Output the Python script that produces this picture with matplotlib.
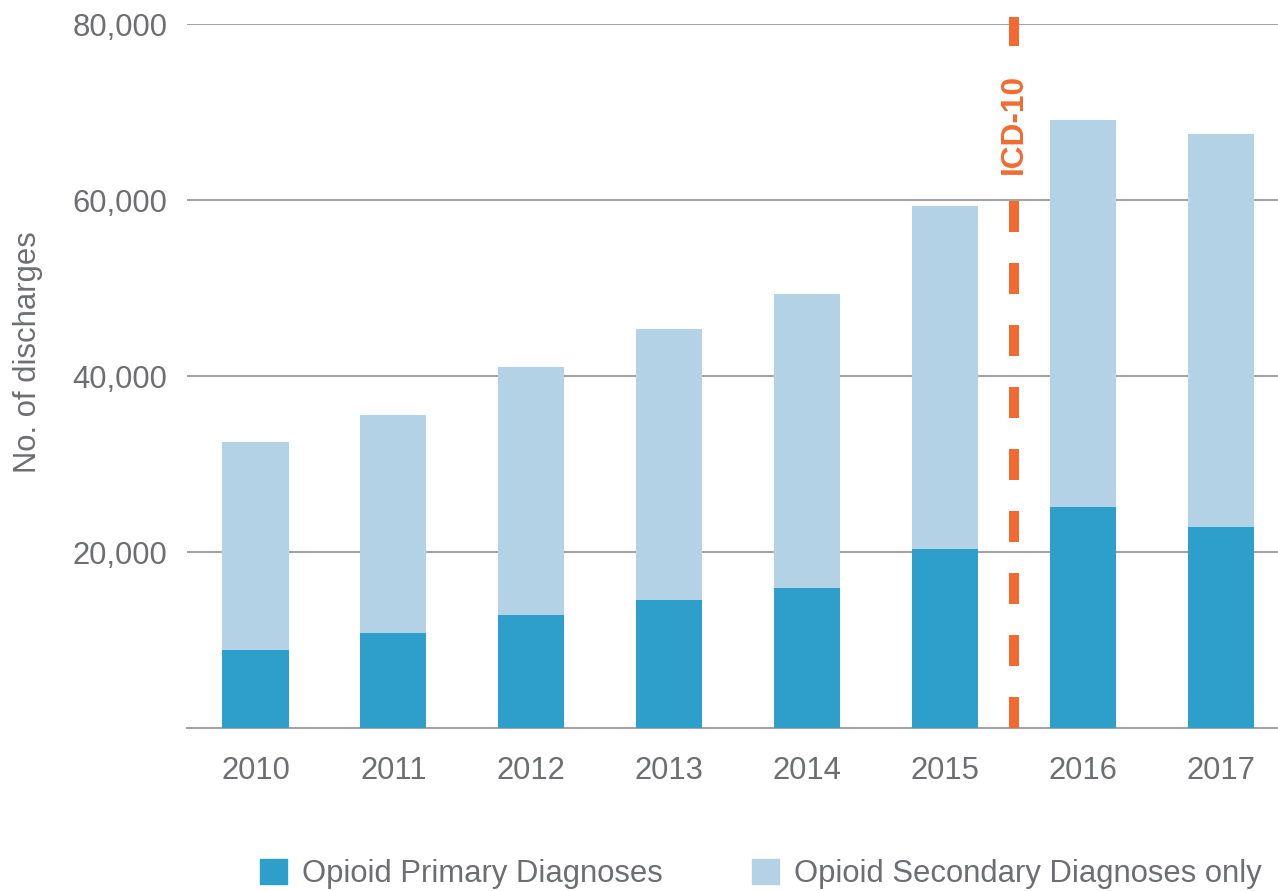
import matplotlib.pyplot as plt
import numpy as np
from matplotlib.patches import Patch

years = ['2010', '2011', '2012', '2013', '2014', '2015', '2016', '2017']
primary = [8900, 10800, 12900, 14500, 15900, 20300, 25100, 22800]
total = [32500, 35600, 41000, 45300, 49300, 59300, 69100, 67500]
secondary = [t - p for t, p in zip(total, primary)]
yticks = [20000, 40000, 60000, 80000]
ytick_labels = ['20,000', '40,000', '60,000', '80,000']
icd_x = 5.5
icd_label = 'ICD-10'

c_primary = '#2E9FCB'
c_secondary = '#B3D2E6'
c_orange = '#F26A2F'
c_text = '#6D6E71'
c_grid = '#A3A3A3'

plt.rcParams['font.family'] = ['Liberation Sans', 'DejaVu Sans']
fs = 22.3

fig = plt.figure(figsize=(12.78, 8.91), dpi=100)
ax = fig.add_axes([0.1463, 0.1829, 0.8537, 0.7901])

x = np.arange(len(years))
w = 0.48
ax.bar(x, primary, width=w, color=c_primary, zorder=3, label='Opioid Primary Diagnoses')
ax.bar(x, secondary, width=w, bottom=primary, color=c_secondary, zorder=3,
       label='Opioid Secondary Diagnoses only')

# ICD-10 transition marker
ax.plot([icd_x, icd_x], [0, 80800], color=c_orange, lw=7.2, solid_capstyle='butt',
        dash_capstyle='butt', dashes=(3.1, 3.1), zorder=4, clip_on=False)
ax.text(icd_x, 68600, icd_label, rotation=90, ha='center', va='center',
        fontsize=22.8, fontweight='bold', color=c_orange, zorder=5,
        bbox=dict(facecolor='white', edgecolor='none', pad=4))

ax.set_xlim(-0.497, 7.415)
ax.set_ylim(0, 80000)
ax.set_yticks(yticks)
ax.set_yticklabels(ytick_labels)
ax.set_xticks(x)
ax.set_xticklabels(years)
ax.tick_params(axis='both', length=0, labelsize=fs, labelcolor=c_text)
ax.tick_params(axis='y', pad=14)
ax.tick_params(axis='x', pad=20)

for s in ['top', 'right', 'left']:
    ax.spines[s].set_visible(False)
ax.spines['bottom'].set_color(c_grid)
ax.spines['bottom'].set_linewidth(1.5)
ax.yaxis.grid(True, color=c_grid, lw=1.5, zorder=0)
ax.set_axisbelow(True)

ax.set_ylabel('No. of discharges', fontsize=fs, color=c_text)
ax.yaxis.set_label_coords(-0.132, 0.534)

handles = [Patch(color=c_primary, label='Opioid Primary Diagnoses'),
           Patch(color=c_secondary, label='Opioid Secondary Diagnoses only')]
fig.legend(handles=handles, loc='center', bbox_to_anchor=(0.5955, 0.019), ncol=2,
           frameon=False, fontsize=fs, labelcolor=c_text, handlelength=0.87,
           handleheight=0.87, handletextpad=0.47, columnspacing=2.9, borderpad=0)

fig.savefig('out.png', dpi=100)
